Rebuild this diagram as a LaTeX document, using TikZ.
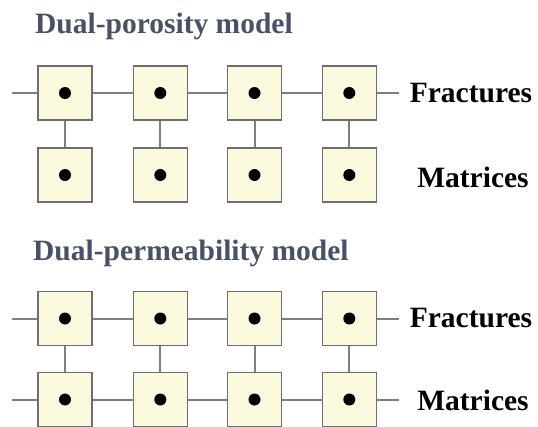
\documentclass[tikz,border=0pt]{standalone}
\usepackage{fontspec}
\setmainfont{Liberation Serif}
\definecolor{boxfill}{HTML}{FCFADE}
\definecolor{boxdraw}{HTML}{6E6E6E}
\definecolor{linkgray}{HTML}{7F7F7F}
\definecolor{titleblue}{HTML}{4A5165}
\tikzset{
  cell/.style={draw=boxdraw, line width=1.6pt, fill=boxfill, minimum width=54pt, minimum height=54pt, inner sep=0pt},
  dot/.style={circle, fill=black, minimum size=12pt, inner sep=0pt},
  link/.style={draw=linkgray, line width=2pt},
  title/.style={anchor=base west, inner sep=0pt, text=titleblue, font=\fontsize{29.5}{31}\selectfont\bfseries},
  label/.style={anchor=center, inner sep=0pt, font=\fontsize{29.5}{31}\selectfont\bfseries}
}
\begin{document}
\begin{tikzpicture}[x=1pt,y=-1pt]
\useasboundingbox (0,0) rectangle (538,426);
\fill[white] (0,0) rectangle (538,426);
% titles
\node[title] (t1) at (35,33) {Dual-porosity model};
\node[title] (t2) at (33,260) {Dual-permeability model};
% top section
\foreach \i/\x in {1/65,2/160.3,3/254.5,4/349.3}{
  \node[cell] (pf\i) at (\x,93) {};
  \node[dot] at (pf\i) {};
  \node[cell] (pm\i) at (\x,175) {};
  \node[dot] at (pm\i) {};
}
\coordinate (pfL) at (12,93);
\coordinate (pfR) at (399,93);
\draw[link] (pfL) -- (pf1.west);
\draw[link] (pf1.east) -- (pf2.west);
\draw[link] (pf2.east) -- (pf3.west);
\draw[link] (pf3.east) -- (pf4.west);
\draw[link] (pf4.east) -- (pfR);
\foreach \i in {1,2,3,4}{\draw[link] (pf\i.south) -- (pm\i.north);}
\node[label] (lf1) at (471,93) {Fractures};
\node[label] (lm1) at (473,177) {Matrices};
% bottom section
\foreach \i/\x in {1/65,2/160.3,3/254.5,4/349.3}{
  \node[cell] (df\i) at (\x,318.5) {};
  \node[dot] at (df\i) {};
  \node[cell] (dm\i) at (\x,399.5) {};
  \node[dot] at (dm\i) {};
}
\coordinate (dfL) at (12,318.5);
\coordinate (dfR) at (399,318.5);
\coordinate (dmL) at (12,399.5);
\coordinate (dmR) at (399,399.5);
\draw[link] (dfL) -- (df1.west);
\draw[link] (df1.east) -- (df2.west);
\draw[link] (df2.east) -- (df3.west);
\draw[link] (df3.east) -- (df4.west);
\draw[link] (df4.east) -- (dfR);
\draw[link] (dmL) -- (dm1.west);
\draw[link] (dm1.east) -- (dm2.west);
\draw[link] (dm2.east) -- (dm3.west);
\draw[link] (dm3.east) -- (dm4.west);
\draw[link] (dm4.east) -- (dmR);
\foreach \i in {1,2,3,4}{\draw[link] (df\i.south) -- (dm\i.north);}
\node[label] (lf2) at (471,318.5) {Fractures};
\node[label] (lm2) at (473,400) {Matrices};
\end{tikzpicture}
\end{document}
